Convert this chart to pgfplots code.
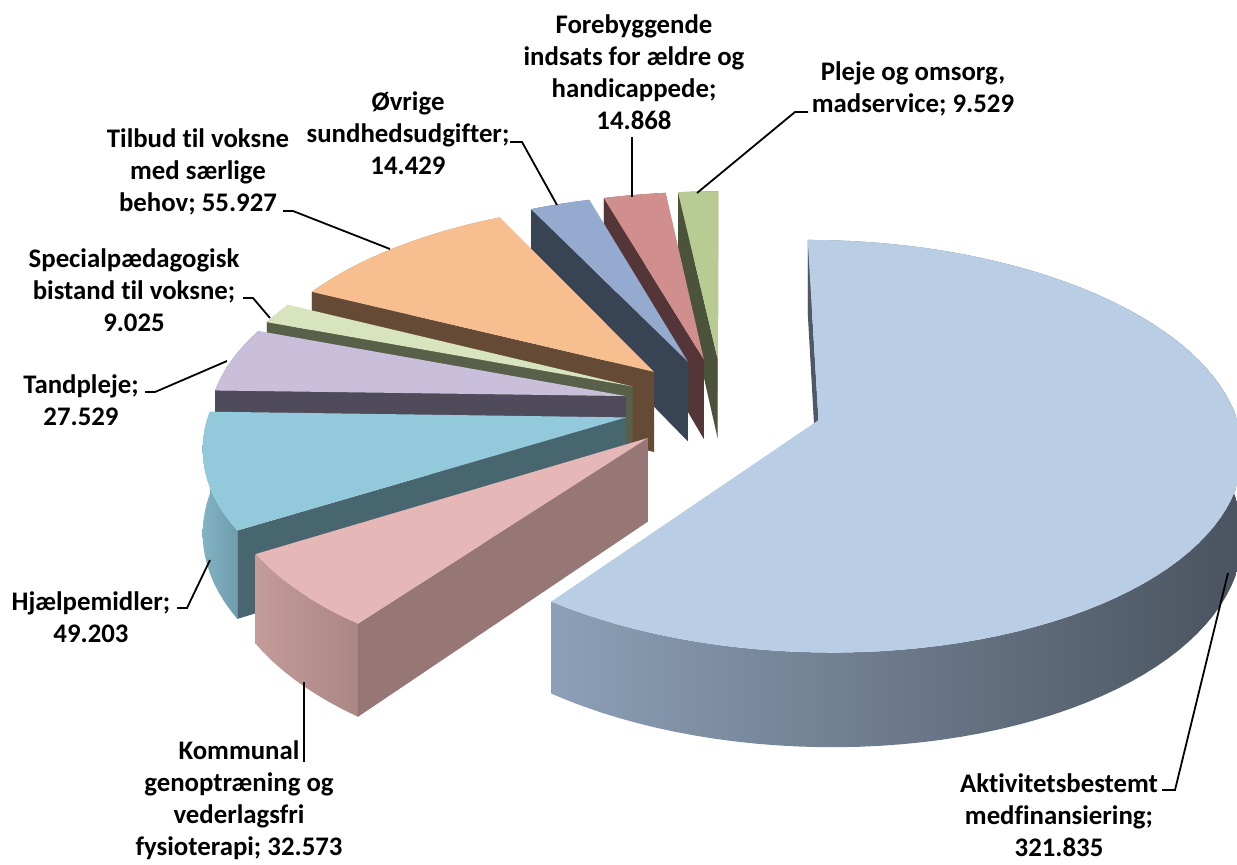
\documentclass[border=0pt]{standalone}
\usepackage{pgfplots}
\pgfplotsset{compat=1.18}
\usepackage{pgfplotstable}
\usepackage{fontspec}
\setmainfont{Carlito}[Ligatures={NoCommon,NoContextual}, RawFeature={-liga;-clig;-dlig}]

% values in Excel order (clockwise from 12 o'clock)
\pgfplotstableread{
idx value
1 321.835
2 32.573
3 49.203
4 27.529
5 9.025
6 55.927
7 14.429
8 14.868
9 9.529
}\piedata

\definecolor{top1}{HTML}{B9CDE5}\definecolor{sf1}{HTML}{4E5866}\definecolor{bL1}{HTML}{8DA0B7}\definecolor{bM1}{HTML}{657284}\definecolor{bR1}{HTML}{4A535F}
\definecolor{top2}{HTML}{E5B7B6}\definecolor{sf2}{HTML}{967776}\definecolor{bL2}{HTML}{C49C9A}\definecolor{bM2}{HTML}{B89290}\definecolor{bR2}{HTML}{AA8684}
\definecolor{top3}{HTML}{93CADB}\definecolor{sf3}{HTML}{48666F}\definecolor{bL3}{HTML}{82B3C3}\definecolor{bM3}{HTML}{7AA9B9}\definecolor{bR3}{HTML}{6F9DAC}
\definecolor{top4}{HTML}{C9BFDA}\definecolor{sf4}{HTML}{4F4B5A}\definecolor{bL4}{HTML}{8A8296}\definecolor{bM4}{HTML}{8A8296}\definecolor{bR4}{HTML}{8A8296}
\definecolor{top5}{HTML}{D7E4BD}\definecolor{sf5}{HTML}{596049}\definecolor{bL5}{HTML}{8F977D}\definecolor{bM5}{HTML}{8F977D}\definecolor{bR5}{HTML}{8F977D}
\definecolor{top6}{HTML}{F7BF8F}\definecolor{sf6}{HTML}{654B36}\definecolor{bL6}{HTML}{A8825F}\definecolor{bM6}{HTML}{A8825F}\definecolor{bR6}{HTML}{A8825F}
\definecolor{top7}{HTML}{94AACF}\definecolor{sf7}{HTML}{384354}\definecolor{bL7}{HTML}{66758F}\definecolor{bM7}{HTML}{66758F}\definecolor{bR7}{HTML}{66758F}
\definecolor{top8}{HTML}{D08E8D}\definecolor{sf8}{HTML}{553638}\definecolor{bL8}{HTML}{8D5E5D}\definecolor{bM8}{HTML}{8D5E5D}\definecolor{bR8}{HTML}{8D5E5D}
\definecolor{top9}{HTML}{B7CB93}\definecolor{sf9}{HTML}{4B533A}\definecolor{bL9}{HTML}{7D8B63}\definecolor{bM9}{HTML}{7D8B63}\definecolor{bR9}{HTML}{7D8B63}

\tikzset{band/.style={left color=bL#1, middle color=bM#1, right color=bR#1}}

% projection parameters (pixel space)
\def\Cx{723}\def\Cy{405}\def\Sc{415}
\def\sphi{0.48}\def\cphi{0.877}\def\Dd{7}
\def\Ex{0.24}\def\Hh{0.225}

\newcommand\proj[3]{%
  \edef\sfac{\fpeval{\Dd/(\Dd+(#2)*\cphi)}}%
  \edef\px{\fpeval{round(\Cx+\Sc*(#1)*\sfac,2)}}%
  \edef\py{\fpeval{round(\Cy-\Sc*\sfac*((#2)*\sphi+(#3)*\cphi),2)}}%
}

\newcommand\drawslice[1]{%
  \edef\tmpcmd{\noexpand\addplot[forget plot, draw=none, band=#1] coordinates {\csname band#1\endcsname};}\tmpcmd
  \ifnum\csname fs#1\endcsname=1 \edef\tmpcmd{\noexpand\addplot[forget plot, draw=none, fill=sf#1] coordinates {\csname sface#1\endcsname};}\tmpcmd\fi
  \ifnum\csname fe#1\endcsname=1 \edef\tmpcmd{\noexpand\addplot[forget plot, draw=none, fill=sf#1] coordinates {\csname eface#1\endcsname};}\tmpcmd\fi
  \edef\tmpcmd{\noexpand\addplot[forget plot, draw=none, fill=top#1] coordinates {\csname top#1\endcsname};}\tmpcmd
}

\newcommand\lab[3]{\node[anchor=base, inner sep=0pt, font=\fontsize{13.4pt}{16pt}\selectfont\bfseries] at (axis cs:#1,#2) {#3};}

\begin{document}
\begin{tikzpicture}
\gdef\tot{0}%
\foreach \i in {0,...,8}{%
  \pgfplotstablegetelem{\i}{value}\of\piedata
  \xdef\tot{\fpeval{\tot+\pgfplotsretval}}%
}%
\gdef\cum{0}%
\foreach \i in {1,...,9}{%
  \edef\rr{\fpeval{\i-1}}%
  \pgfplotstablegetelem{\rr}{value}\of\piedata
  \edef\aone{\cum}%
  \edef\atwo{\fpeval{\cum+360*\pgfplotsretval/\tot}}%
  \xdef\cum{\atwo}%
  \edef\amid{\fpeval{(\aone+\atwo)/2}}%
  \edef\ox{\fpeval{\Ex*sind(\amid)}}%
  \edef\oy{\fpeval{\Ex*cosd(\amid)}}%
  \proj{\ox}{\oy}{0}\xdef\apT{(\px,\py)}%
  \proj{\ox}{\oy}{-\Hh}\xdef\apB{(\px,\py)}%
  \edef\nn{\fpeval{max(3,ceil((\atwo-\aone)/2.5))}}%
  \gdef\tp{}\gdef\bp{}%
  \foreach \k in {0,...,\nn}{%
    \edef\thk{\fpeval{\aone+(\atwo-\aone)*\k/\nn}}%
    \edef\XX{\fpeval{\ox+sind(\thk)}}%
    \edef\YY{\fpeval{\oy+cosd(\thk)}}%
    \proj{\XX}{\YY}{0}\xdef\tp{\tp(\px,\py) }%
    \ifnum\k=0 \xdef\tfirst{(\px,\py)}\fi
    \ifnum\k=\nn\relax \xdef\tlast{(\px,\py)}\fi
    \proj{\XX}{\YY}{-\Hh}\xdef\bp{(\px,\py) \bp}%
    \ifnum\k=0 \xdef\bfirst{(\px,\py)}\fi
    \ifnum\k=\nn\relax \xdef\blast{(\px,\py)}\fi
  }%
  \expandafter\xdef\csname top\i\endcsname{\apT\space\tp}%
  \expandafter\xdef\csname band\i\endcsname{\tp\space\bp}%
  \expandafter\xdef\csname sface\i\endcsname{\apT\space\tfirst\space\bfirst\space\apB}%
  \expandafter\xdef\csname eface\i\endcsname{\apT\space\tlast\space\blast\space\apB}%
  \expandafter\xdef\csname fs\i\endcsname{\fpeval{((\ox)*cosd(\aone)-sind(\aone)*(\Dd*\cphi+\oy))>0}}%
  \expandafter\xdef\csname fe\i\endcsname{\fpeval{(0-(\ox)*cosd(\atwo)+sind(\atwo)*(\Dd*\cphi+\oy))>0}}%
}%
\useasboundingbox (0,0) rectangle (618.5pt,432pt);
\begin{axis}[at={(0,0)}, anchor=south west, scale only axis,
  width=618.5pt, height=432pt,
  xmin=0, xmax=1237, ymin=0, ymax=864, y dir=reverse,
  hide axis, clip=false]
\drawslice{9}
\drawslice{8}
\drawslice{7}
\drawslice{6}
\drawslice{5}
\drawslice{4}
\drawslice{3}
\drawslice{1}
\drawslice{2}
% leader lines
\addplot[forget plot, black, line width=0.9pt] coordinates {(697,193) (795,112) (808,112)};
\addplot[forget plot, black, line width=0.9pt] coordinates {(632,197) (632,137)};
\addplot[forget plot, black, line width=0.9pt] coordinates {(557,205) (522,142) (510,142)};
\addplot[forget plot, black, line width=0.9pt] coordinates {(390,249) (293,211) (283,211)};
\addplot[forget plot, black, line width=0.9pt] coordinates {(270,318) (253,298) (243,298)};
\addplot[forget plot, black, line width=0.9pt] coordinates {(227,361) (155,392) (145,392)};
\addplot[forget plot, black, line width=0.9pt] coordinates {(210,560) (187,608) (177,608)};
\addplot[forget plot, black, line width=0.9pt] coordinates {(304,682) (304,762)};
\addplot[forget plot, black, line width=0.9pt] coordinates {(1228,573) (1175,790) (1162,790)};
% labels
\lab{913}{80}{Pleje og omsorg,}
\lab{913}{112}{madservice; 9.529}
\lab{634}{33}{Forebyggende}
\lab{634}{65}{indsats for ældre og}
\lab{634}{97}{handicappede;}
\lab{634}{129}{14.868}
\lab{408}{110}{Øvrige}
\lab{408}{142}{sundhedsudgifter;}
\lab{408}{174}{14.429}
\lab{198}{147}{Tilbud til voksne}
\lab{198}{179}{med særlige}
\lab{198}{211}{behov; 55.927}
\lab{134}{267}{Specialpædagogisk}
\lab{134}{299}{bistand til voksne;}
\lab{134}{331}{9.025}
\lab{81}{393}{Tandpleje;}
\lab{81}{425}{27.529}
\lab{91}{610}{Hjælpemidler;}
\lab{91}{642}{49.203}
\lab{239}{759}{Kommunal}
\lab{239}{791}{genoptræning og}
\lab{239}{823}{vederlagsfri}
\lab{239}{855}{fysioterapi; 32.573}
\lab{1059}{792}{Aktivitetsbestemt}
\lab{1059}{824}{medfinansiering;}
\lab{1059}{856}{321.835}
\end{axis}
\end{tikzpicture}
\end{document}
